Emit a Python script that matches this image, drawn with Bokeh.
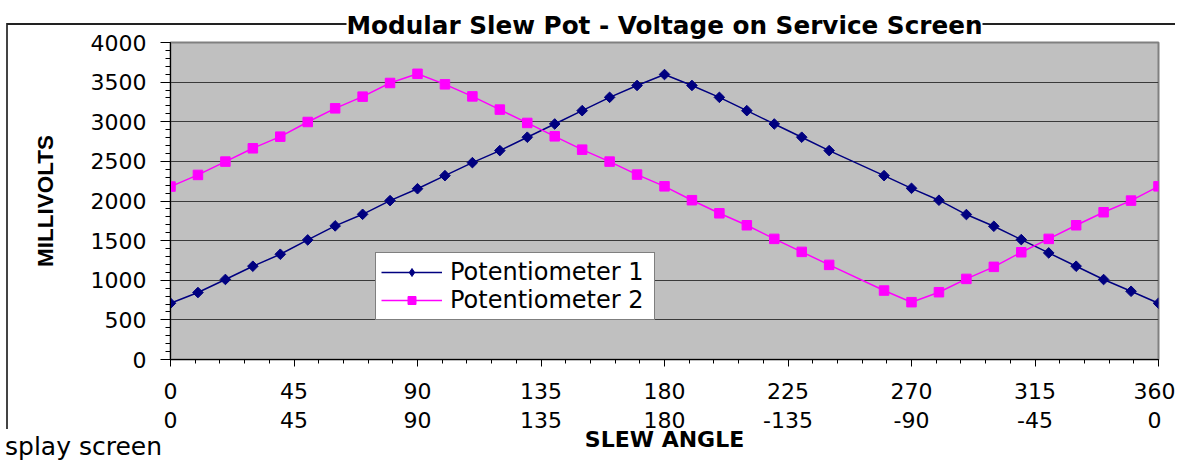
from bokeh.plotting import figure
from bokeh.models import Range1d, FixedTicker, Legend, LegendItem, Div
from bokeh.layouts import column
from bokeh.embed import file_html
from bokeh.resources import INLINE

# ---------------- data ----------------
angles = [0, 10, 20, 30, 40, 50, 60, 70, 80, 90, 100, 110, 120, 130, 140, 150, 160, 170, 180,
          190, 200, 210, 220, 230, 240, 260, 270, 280, 290, 300, 310, 320, 330, 340, 350, 360]
pot1 = [710, 845, 1010, 1177, 1328, 1509, 1686, 1832, 2005, 2155, 2320, 2484, 2636, 2805, 2972, 3140, 3308, 3458, 3596,
        3458, 3308, 3140, 2972, 2805, 2636, 2320, 2160, 2010, 1829, 1681, 1513, 1345, 1177, 1009, 861, 710]
pot2 = [2182, 2329, 2497, 2665, 2812, 2997, 3169, 3317, 3489, 3605, 3472, 3320, 3153, 2985, 2816, 2648, 2497, 2333, 2185,
        2010, 1845, 1694, 1522, 1358, 1194, 870, 723, 849, 1017, 1169, 1353, 1522, 1694, 1858, 2005, 2185]
x_ticks = [0, 45, 90, 135, 180, 225, 270, 315, 360]
tick_row1 = ["0", "45", "90", "135", "180", "225", "270", "315", "360"]
tick_row2 = ["0", "45", "90", "135", "180", "-135", "-90", "-45", "0"]
y_ticks = [0, 500, 1000, 1500, 2000, 2500, 3000, 3500, 4000]
series_names = ["Potentiometer 1", "Potentiometer 2"]
title_text = "Modular Slew Pot - Voltage on Service Screen"
page_text = "splay screen"

W, H = 1175, 454
p = figure(width=W, height=H, output_backend="svg", toolbar_location=None,
           x_range=Range1d(0, 360), y_range=Range1d(0, 4000),
           min_border_left=170, min_border_right=17, min_border_top=42, min_border_bottom=95)
p.background_fill_color = "#C0C0C0"
p.border_fill_alpha = 0
p.outline_line_color = "#808080"
p.outline_line_width = 2

# chart-area border lines (drawn behind the transparent canvas border)
p.styles = {
    "background": "linear-gradient(#222,#222) 7px 23px / 1168px 2px no-repeat, "
                  "linear-gradient(#444,#444) 6px 23px / 2px 406px no-repeat, white",
}

# title
p.title.text = title_text
p.title.align = "center"
p.title.text_font = "DejaVu Sans"
p.title.text_font_style = "bold"
p.title.text_font_size = "24.7px"
p.title.text_color = "black"
p.title.standoff = 5
p.title.background_fill_color = "white"

# grid
p.xgrid.visible = False
p.ygrid.ticker = FixedTicker(ticks=y_ticks[1:-1])
p.ygrid.grid_line_color = "#3a3a3a"
p.ygrid.grid_line_width = 1

# y axis
ya = p.yaxis[0]
ya.ticker = FixedTicker(ticks=y_ticks, minor_ticks=list(range(0, 4001, 100)))
ya.major_tick_out = 10
ya.major_tick_in = 0
ya.minor_tick_out = 5
ya.minor_tick_in = 0
ya.major_label_standoff = 14
ya.major_label_text_font = "DejaVu Sans"
ya.major_label_text_font_size = "22px"
ya.major_label_text_color = "black"
ya.axis_label = "MILLIVOLTS"
ya.axis_label_text_font = "Liberation Sans"
ya.axis_label_text_font_style = "bold"
ya.axis_label_text_font_size = "22.5px"
ya.axis_label_text_color = "black"
ya.axis_label_standoff = 30
ya.axis_line_color = "black"
ya.major_tick_line_color = "black"
ya.minor_tick_line_color = "black"

# x axis (two label rows)
xa = p.xaxis[0]
xa.ticker = FixedTicker(ticks=x_ticks, minor_ticks=list(range(0, 361, 9)))
xa.major_tick_out = 7
xa.major_tick_in = 0
xa.minor_tick_out = 4
xa.minor_tick_in = 0
xa.major_label_standoff = 12
xa.major_label_overrides = {float(t): f"{a}\n{b}" for t, a, b in zip(x_ticks, tick_row1, tick_row2)}
xa.major_label_text_font = "DejaVu Sans"
xa.major_label_text_font_size = "22px"
xa.major_label_text_line_height = 1.17
xa.major_label_text_color = "black"
xa.axis_label = "SLEW ANGLE"
xa.axis_label_text_font = "DejaVu Sans"
xa.axis_label_text_font_style = "bold"
xa.axis_label_text_font_size = "22px"
xa.axis_label_text_color = "black"
xa.axis_label_standoff = -9
xa.axis_line_color = "black"
xa.major_tick_line_color = "black"
xa.minor_tick_line_color = "black"

# series
l1 = p.line(angles, pot1, line_color="#000080", line_width=1.5)
s1 = p.scatter(angles, pot1, marker="square", angle=0.785398, size=7.5,
               fill_color="#000080", line_color="#000080")
l2 = p.line(angles, pot2, line_color="#FF00FF", line_width=1.5)
s2 = p.scatter(angles, pot2, marker="square", size=9.5,
               fill_color="#FF00FF", line_color="#FF00FF")
# legend-only diamond symbol for series 1 (a single undrawn NaN point)
d1 = p.scatter(x=[float("nan")], y=[float("nan")], marker="diamond", size=11,
               fill_color="#000080", line_color="#000080")

legend = Legend(items=[LegendItem(label=series_names[0], renderers=[l1, d1]),
                       LegendItem(label=series_names[1], renderers=[l2, s2])],
                location=(205, 39))
legend.label_text_font = "DejaVu Sans"
legend.label_text_font_size = "24px"
legend.label_text_color = "black"
legend.glyph_width = 61
legend.glyph_height = 20
legend.label_standoff = 8
legend.label_width = 199
legend.padding = 5
legend.spacing = 0
legend.margin = 0
legend.border_line_color = "black"
legend.border_line_width = 1
legend.background_fill_color = "white"
legend.background_fill_alpha = 1
p.add_layout(legend)

# cut-off page text at the bottom-left, outside the chart
note = Div(text=f'<span style="font-family: \'DejaVu Sans\'; font-size: 25px; color: black; '
                f'white-space: nowrap; line-height: 29px">{page_text}</span>',
           width=200, height=29,
           styles={"position": "absolute", "left": "0px", "top": "427px"})

layout = column(p, note)
open("out.html", "w").write(file_html(layout, INLINE))
